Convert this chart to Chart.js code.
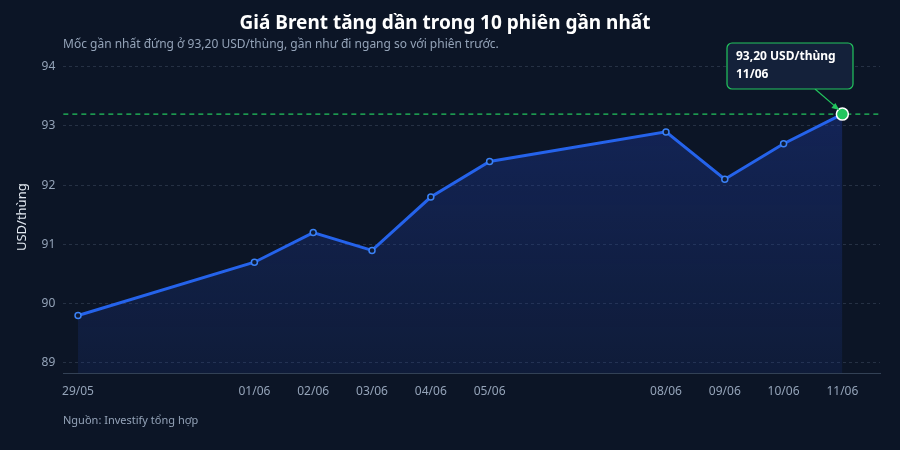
<!DOCTYPE html>
<html><head><meta charset="utf-8">
<script src="https://cdn.jsdelivr.net/npm/chart.js@4/dist/chart.umd.min.js"></script>
<style>html,body{margin:0;padding:0;background:#0c1526;}#w{width:900px;height:450px;position:relative}</style>
</head><body><div id="w"><canvas id="c"></canvas></div>
<script>
const dateLabels = ["29/05","01/06","02/06","03/06","04/06","05/06","08/06","09/06","10/06","11/06"];
const dayIndex = [0,3,4,5,6,7,10,11,12,13];
const prices = [89.8,90.7,91.2,90.9,91.8,92.4,92.9,92.1,92.7,93.2];
const yTicks = [89,90,91,92,93,94];
const refValue = 93.2;
const calloutText = ["93,20 USD/thùng","11/06"];

const F = "'Noto Sans', sans-serif";
const pts = dayIndex.map((d,i)=>({x:d,y:prices[i]}));
const last = pts.length-1;

const overlay = {
  id:'overlay',
  beforeDatasetsDraw(ch){
    const {ctx,chartArea:a,scales:{y}} = ch;
    const yy = y.getPixelForValue(refValue);
    ctx.save();ctx.strokeStyle='#22c55e';ctx.lineWidth=1.2;ctx.setLineDash([5,4]);
    ctx.beginPath();ctx.moveTo(a.left,yy);ctx.lineTo(a.right,yy);ctx.stroke();ctx.restore();
  },
  afterDatasetsDraw(ch){
    const {ctx,scales:{x,y}} = ch;
    const px = x.getPixelForValue(pts[last].x), py = y.getPixelForValue(pts[last].y);
    ctx.save();
    const bx=727,by=43,bw=126,bh=46;
    ctx.strokeStyle='#22c55e';ctx.lineWidth=1.2;
    ctx.beginPath();ctx.moveTo(815,by+bh);ctx.lineTo(px-4,py-5);ctx.stroke();
    ctx.fillStyle='#22c55e';ctx.beginPath();ctx.moveTo(px-3,py-4);ctx.lineTo(px-11,py-6);ctx.lineTo(px-7,py-11);ctx.fill();
    ctx.fillStyle='#14213a';ctx.beginPath();ctx.roundRect(bx,by,bw,bh,5);ctx.fill();ctx.stroke();
    ctx.fillStyle='#ffffff';ctx.font="bold 12px "+F;ctx.textBaseline='middle';
    ctx.fillText(calloutText[0],bx+9,by+14);ctx.fillText(calloutText[1],bx+9,by+32);
    ctx.restore();
  }
};

new Chart(document.getElementById('c'),{
  type:'line',
  data:{datasets:[{data:pts,borderColor:'#2563eb',borderWidth:3,tension:0,
    fill:'start',
    backgroundColor:(c)=>{const a=c.chart.chartArea;if(!a)return 'rgba(30,58,138,0.4)';
      const g=c.chart.ctx.createLinearGradient(0,a.top,0,a.bottom);g.addColorStop(0,'rgba(30,58,160,0.45)');g.addColorStop(1,'rgba(30,58,138,0.2)');return g;},
    pointRadius:pts.map((p,i)=>i===last?6:3),
    pointBackgroundColor:pts.map((p,i)=>i===last?'#22c55e':'#0f1a33'),
    pointBorderColor:pts.map((p,i)=>i===last?'#ffffff':'#3b82f6'),
    pointBorderWidth:1.5}]},
  options:{responsive:true,maintainAspectRatio:false,animation:false,
    layout:{padding:{left:10,right:20,top:0,bottom:48}},
    plugins:{legend:{display:false},tooltip:{enabled:false},
      title:{display:true,text:'Giá Brent tăng dần trong 10 phiên gần nhất',color:'#ffffff',font:{family:F,size:19,weight:'bold'},padding:{top:12,bottom:26}}},
    scales:{
      x:{type:'linear',min:-0.25,max:13.64,
        afterBuildTicks:(s)=>{s.ticks=dayIndex.map(v=>({value:v}));},
        ticks:{color:'#94a3b8',font:{family:F,size:12},autoSkip:false,maxRotation:0,callback:(v)=>{const i=dayIndex.indexOf(v);return i>=0?dateLabels[i]:'';}},
        grid:{display:false},border:{color:'#334155'}},
      y:{min:88.82,max:94.1,
        afterBuildTicks:(s)=>{s.ticks=yTicks.map(v=>({value:v}));},
        ticks:{color:'#94a3b8',font:{family:F,size:12},padding:8},
        title:{display:true,text:'USD/thùng',color:'#e2e8f0',font:{family:F,size:13}},
        grid:{color:'rgba(100,116,139,0.3)',drawTicks:false},border:{display:false,dash:[3,3]}}
    }},
  plugins:[overlay,{id:'src',afterDraw(ch){const c=ch.ctx;c.save();c.fillStyle='#94a3b8';c.font="12px "+F;c.textBaseline='middle';
    c.fillText('Mốc gần nhất đứng ở 93,20 USD/thùng, gần như đi ngang so với phiên trước.',63,45);
    c.font="11px "+F;c.fillText('Nguồn: Investify tổng hợp',63,421);c.restore();}}]
});
</script></body></html>
